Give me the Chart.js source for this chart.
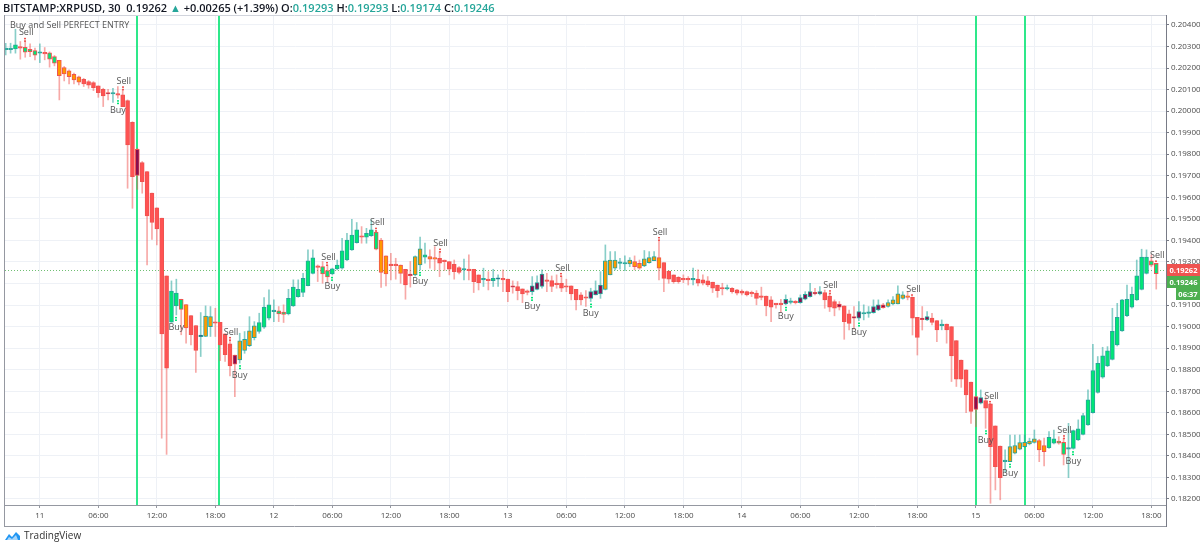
<!DOCTYPE html>
<html>
<head>
<meta charset="utf-8">
<script src="https://cdn.jsdelivr.net/npm/chart.js@4.4.1/dist/chart.umd.min.js"></script>
<style>
  body { margin: 0; background: #fff; font-family: "Open Sans", sans-serif; }
  #wrap { position: relative; width: 1200px; height: 547px; overflow: hidden; }
  #cabecera { position: absolute; left: 3px; top: 0; font-size: 11px; font-weight: 600; color: #131722; white-space: nowrap; line-height: 15px; }
  #cabecera .v { color: #26a69a; }
  #logo { position: absolute; left: 4px; top: 528px; font-size: 10px; color: #333; display: flex; align-items: center; gap: 3px; }
</style>
</head>
<body>
<div id="wrap">
  <canvas id="grafico" width="1200" height="547"></canvas>
  <div id="cabecera">BITSTAMP:XRPUSD, 30&nbsp; 0.19262 <span class="v">▲</span> +0.00265 (+1.39%) O:<span class="v">0.19293</span> H:<span class="v">0.19293</span> L:<span class="v">0.19174</span> C:<span class="v">0.19246</span></div>
  <div id="logo"><svg width="17" height="11" viewBox="0 0 17 11"><path d="M1 10 L5 4 L8 7 L12 2 L16 6 L16 10 Z" fill="#2196f3"/><path d="M3 10 L5 7 L8 9 L12 5 L14 10 Z" fill="#fff" opacity="0.6"/></svg>TradingView</div>
</div>
<script>
// Velas de 30 min, BITSTAMP:XRPUSD
const aperturas = [
  0.20289,0.20289,0.20289,0.20296,0.20296,0.20287,0.20281,0.20272,0.20269,0.20270,
  0.20253,0.20236,0.20202,0.20187,0.20171,0.20159,0.20148,0.20137,0.20132,0.20117,
  0.20101,0.20083,0.20083,0.20078,0.20075,0.20049,0.19948,0.19823,0.19761,0.19719,
  0.19619,0.19551,0.19503,0.19235,0.19020,0.19096,0.19127,0.19102,0.19051,0.19005,
  0.18957,0.18954,0.19000,0.19019,0.19020,0.18966,0.18920,0.18868,0.18845,0.18889,
  0.18912,0.18949,0.18977,0.18997,0.19039,0.19073,0.19073,0.19067,0.19059,0.19096,
  0.19139,0.19158,0.19190,0.19247,0.19278,0.19278,0.19260,0.19244,0.19268,0.19271,
  0.19309,0.19356,0.19390,0.19418,0.19415,0.19422,0.19438,0.19402,0.19328,0.19286,
  0.19286,0.19286,0.19266,0.19240,0.19240,0.19286,0.19322,0.19325,0.19320,0.19317,
  0.19305,0.19302,0.19289,0.19274,0.19266,0.19263,0.19266,0.19240,0.19220,0.19217,
  0.19213,0.19223,0.19220,0.19220,0.19186,0.19186,0.19175,0.19162,0.19162,0.19173,
  0.19186,0.19213,0.19213,0.19198,0.19201,0.19186,0.19189,0.19173,0.19147,0.19135,
  0.19131,0.19147,0.19152,0.19173,0.19240,0.19271,0.19297,0.19294,0.19291,0.19302,
  0.19294,0.19282,0.19297,0.19306,0.19320,0.19297,0.19258,0.19240,0.19229,0.19220,
  0.19220,0.19220,0.19221,0.19217,0.19212,0.19206,0.19193,0.19178,0.19178,0.19178,
  0.19170,0.19165,0.19162,0.19155,0.19155,0.19139,0.19142,0.19124,0.19105,0.19105,
  0.19105,0.19116,0.19114,0.19111,0.19127,0.19139,0.19155,0.19152,0.19158,0.19142,
  0.19116,0.19104,0.19096,0.19059,0.19043,0.19039,0.19062,0.19065,0.19065,0.19077,
  0.19101,0.19093,0.19105,0.19105,0.19131,0.19139,0.19136,0.19043,0.19036,0.19031,
  0.19039,0.19028,0.19008,0.19012,0.19000,0.18935,0.18845,0.18799,0.18742,0.18675,
  0.18644,0.18657,0.18641,0.18539,0.18446,0.18377,0.18373,0.18412,0.18431,0.18443,
  0.18455,0.18463,0.18471,0.18448,0.18438,0.18459,0.18469,0.18463,0.18435,0.18435,
  0.18474,0.18500,0.18544,0.18601,0.18694,0.18765,0.18818,0.18848,0.18915,0.18980,
  0.19051,0.19090,0.19124,0.19173,0.19247,0.19305,0.19293
];
const maximos = [
  0.20315,0.20315,0.20380,0.20323,0.20326,0.20312,0.20293,0.20312,0.20295,0.20275,
  0.20258,0.20236,0.20207,0.20191,0.20176,0.20163,0.20152,0.20142,0.20137,0.20117,
  0.20106,0.20101,0.20106,0.20114,0.20101,0.20052,0.19951,0.19828,0.19766,0.19719,
  0.19619,0.19551,0.19503,0.19235,0.19212,0.19220,0.19127,0.19102,0.19051,0.19005,
  0.19065,0.19096,0.19093,0.19085,0.19020,0.18966,0.18938,0.18868,0.18969,0.18977,
  0.19046,0.19023,0.19062,0.19135,0.19170,0.19124,0.19093,0.19101,0.19173,0.19217,
  0.19217,0.19247,0.19356,0.19356,0.19286,0.19302,0.19286,0.19271,0.19309,0.19410,
  0.19433,0.19498,0.19483,0.19464,0.19456,0.19495,0.19445,0.19410,0.19328,0.19340,
  0.19317,0.19286,0.19266,0.19302,0.19328,0.19415,0.19387,0.19356,0.19371,0.19348,
  0.19309,0.19302,0.19309,0.19278,0.19313,0.19333,0.19266,0.19240,0.19271,0.19255,
  0.19266,0.19240,0.19263,0.19220,0.19212,0.19209,0.19175,0.19170,0.19232,0.19235,
  0.19263,0.19247,0.19235,0.19240,0.19235,0.19220,0.19189,0.19173,0.19158,0.19167,
  0.19178,0.19212,0.19255,0.19379,0.19348,0.19348,0.19317,0.19328,0.19320,0.19328,
  0.19309,0.19353,0.19348,0.19348,0.19402,0.19297,0.19258,0.19240,0.19232,0.19240,
  0.19232,0.19271,0.19263,0.19240,0.19232,0.19206,0.19193,0.19201,0.19193,0.19181,
  0.19173,0.19170,0.19165,0.19165,0.19167,0.19183,0.19142,0.19139,0.19108,0.19127,
  0.19147,0.19132,0.19121,0.19147,0.19162,0.19201,0.19178,0.19186,0.19170,0.19155,
  0.19124,0.19116,0.19096,0.19077,0.19093,0.19116,0.19101,0.19093,0.19124,0.19124,
  0.19108,0.19124,0.19139,0.19189,0.19162,0.19162,0.19136,0.19043,0.19093,0.19070,
  0.19062,0.19028,0.19031,0.19012,0.19000,0.18935,0.18845,0.18799,0.18742,0.18675,
  0.18706,0.18675,0.18641,0.18539,0.18446,0.18428,0.18497,0.18497,0.18497,0.18497,
  0.18482,0.18520,0.18477,0.18482,0.18513,0.18520,0.18489,0.18482,0.18551,0.18520,
  0.18567,0.18598,0.18706,0.18918,0.18861,0.18904,0.18907,0.19085,0.19108,0.19127,
  0.19193,0.19183,0.19309,0.19359,0.19356,0.19333,0.19293
];
const minimos = [
  0.20261,0.20269,0.20269,0.20241,0.20250,0.20253,0.20238,0.20225,0.20238,0.20204,
  0.20210,0.20052,0.20140,0.20126,0.20126,0.20122,0.20114,0.20106,0.20095,0.20064,
  0.20021,0.20052,0.20040,0.20060,0.20021,0.19642,0.19549,0.19637,0.19619,0.19286,
  0.19405,0.19379,0.18482,0.18407,0.19020,0.19054,0.18962,0.18923,0.18915,0.18787,
  0.18861,0.18954,0.18954,0.18954,0.18842,0.18838,0.18771,0.18675,0.18830,0.18876,
  0.18907,0.18938,0.18969,0.18992,0.19031,0.19023,0.19023,0.19019,0.19054,0.19093,
  0.19136,0.19139,0.19189,0.19244,0.19209,0.19201,0.19204,0.19240,0.19263,0.19266,
  0.19306,0.19353,0.19387,0.19387,0.19387,0.19418,0.19356,0.19182,0.19189,0.19217,
  0.19220,0.19201,0.19127,0.19183,0.19235,0.19263,0.19294,0.19271,0.19263,0.19232,
  0.19260,0.19240,0.19220,0.19244,0.19217,0.19217,0.19158,0.19170,0.19186,0.19170,
  0.19186,0.19186,0.19162,0.19116,0.19155,0.19124,0.19111,0.19147,0.19147,0.19170,
  0.19178,0.19162,0.19162,0.19178,0.19162,0.19162,0.19124,0.19077,0.19100,0.19093,
  0.19116,0.19147,0.19131,0.19170,0.19240,0.19263,0.19266,0.19260,0.19278,0.19263,
  0.19266,0.19278,0.19294,0.19306,0.19217,0.19162,0.19201,0.19201,0.19201,0.19204,
  0.19193,0.19193,0.19189,0.19193,0.19186,0.19158,0.19136,0.19147,0.19170,0.19155,
  0.19147,0.19147,0.19142,0.19139,0.19101,0.19124,0.19050,0.19023,0.19085,0.19065,
  0.19101,0.19105,0.19105,0.19108,0.19124,0.19136,0.19147,0.19147,0.19085,0.19070,
  0.19050,0.19077,0.18941,0.18984,0.18988,0.19028,0.19031,0.19043,0.19062,0.19074,
  0.19085,0.19090,0.19101,0.19105,0.19127,0.19124,0.18961,0.18868,0.18984,0.19028,
  0.19008,0.18930,0.18985,0.18923,0.18745,0.18722,0.18718,0.18601,0.18551,0.18536,
  0.18641,0.18528,0.18180,0.18242,0.18196,0.18327,0.18373,0.18409,0.18428,0.18440,
  0.18451,0.18459,0.18373,0.18353,0.18435,0.18455,0.18454,0.18358,0.18299,0.18431,
  0.18471,0.18497,0.18541,0.18598,0.18691,0.18760,0.18814,0.18845,0.18910,0.18977,
  0.19046,0.19085,0.19121,0.19170,0.19244,0.19278,0.19174
];
const cierres = [
  0.20289,0.20289,0.20307,0.20296,0.20273,0.20276,0.20259,0.20272,0.20269,0.20241,
  0.20222,0.20165,0.20173,0.20160,0.20145,0.20134,0.20126,0.20120,0.20109,0.20086,
  0.20070,0.20083,0.20083,0.20078,0.20021,0.19843,0.19696,0.19701,0.19673,0.19514,
  0.19483,0.19453,0.18966,0.18807,0.19165,0.19155,0.19080,0.18994,0.18962,0.18889,
  0.18957,0.19049,0.19046,0.19019,0.18915,0.18870,0.18818,0.18826,0.18934,0.18941,
  0.18980,0.19003,0.19019,0.19090,0.19101,0.19073,0.19059,0.19056,0.19131,0.19183,
  0.19173,0.19224,0.19305,0.19319,0.19278,0.19244,0.19230,0.19268,0.19286,0.19351,
  0.19402,0.19425,0.19449,0.19418,0.19433,0.19449,0.19359,0.19251,0.19244,0.19286,
  0.19286,0.19247,0.19193,0.19240,0.19325,0.19361,0.19333,0.19313,0.19313,0.19294,
  0.19305,0.19266,0.19255,0.19251,0.19266,0.19263,0.19209,0.19204,0.19220,0.19217,
  0.19224,0.19223,0.19220,0.19162,0.19186,0.19167,0.19152,0.19162,0.19189,0.19204,
  0.19244,0.19213,0.19186,0.19198,0.19178,0.19186,0.19152,0.19124,0.19124,0.19135,
  0.19162,0.19167,0.19193,0.19305,0.19309,0.19309,0.19297,0.19294,0.19309,0.19278,
  0.19271,0.19314,0.19320,0.19325,0.19271,0.19224,0.19220,0.19209,0.19209,0.19220,
  0.19220,0.19220,0.19201,0.19201,0.19193,0.19178,0.19167,0.19178,0.19178,0.19162,
  0.19155,0.19155,0.19147,0.19155,0.19131,0.19139,0.19096,0.19090,0.19105,0.19105,
  0.19127,0.19116,0.19114,0.19135,0.19150,0.19162,0.19155,0.19162,0.19124,0.19090,
  0.19085,0.19090,0.19023,0.19015,0.19043,0.19070,0.19062,0.19065,0.19093,0.19101,
  0.19088,0.19111,0.19124,0.19152,0.19147,0.19139,0.19039,0.18950,0.19036,0.19046,
  0.19019,0.18985,0.19008,0.18985,0.18864,0.18756,0.18756,0.18683,0.18606,0.18616,
  0.18670,0.18621,0.18443,0.18350,0.18299,0.18377,0.18443,0.18448,0.18462,0.18463,
  0.18469,0.18479,0.18428,0.18420,0.18486,0.18479,0.18459,0.18407,0.18435,0.18517,
  0.18525,0.18587,0.18660,0.18796,0.18830,0.18864,0.18887,0.18978,0.19043,0.19124,
  0.19127,0.19150,0.19235,0.19322,0.19322,0.19285,0.19246
];
// Estado del indicador por vela: G verde, R rojo, O naranja, M granate, N azul, T neutro
const estados = (
  "TTGRGGGTRG" + "GOOOOORRRR" + "RMTRRRRMRR" + "RRRRGGGORR" + "NOORRRRMOO" +
  "OOGGGTGGGG" + "GGGGRGGGGG" + "GGGRGGGOOR" + "RORMOOGOOR" + "RRRRTRRRTR" +
  "GNRRMRRRMM" + "MRRRRRRRRR" + "MMMOOOTTOO" + "OOOOORRRRR" + "RTRRRRRRTR" +
  "RRRRRRRRRR" + "MTRMMMMMRR" + "RMRRMMTTMM" + "MOOOOORRMM" + "RRTRRRRRRM" +
  "MRRRRTOOOO" + "OOOOGGGGTG" + "GGGGGGGGGG" + "GGGGGGG"
).split("");

// Eje de tiempo (índice de vela de cada marca)
const ticksX = [7,19,31,43,55,67,79,91,103,115,127,139,151,163,175,187,199,211,223,235];
const etiquetasX = ["11","06:00","12:00","18:00","12","06:00","12:00","18:00","13","06:00","12:00","18:00","14","06:00","12:00","18:00","15","06:00","12:00","18:00"];

// Señales del indicador
const senalesVenta = [4,24,46,66,76,89,114,134,169,186,202,217,236];
const senalesCompra = [23,35,48,67,85,108,120,160,175,201,206,219];
const lineasVerdes = [27,43.8,199,209];

const precioUltimo = 0.19262;
const precioCierre = 0.19246;
const cuentaAtras = "06:37";

const colorCuerpo = { G: "#00e676", R: "#ff5252", O: "#ff9800", M: "#880e4f", N: "#1a237e", T: "#26a69a" };
const alcista = (i) => cierres[i] > aperturas[i] || (cierres[i] === aperturas[i] && "GTN".includes(estados[i]));

const indices = aperturas.map((_, i) => i);

const mechas = indices.map(i => ({ x: i, y: [minimos[i], maximos[i]] }));
const cuerpos = indices.map(i => {
  let a = aperturas[i], c = cierres[i];
  if (Math.abs(a - c) < 0.00003) {
    const m = (a + c) / 2;
    a = m - 0.000035; c = m + 0.000035;
  }
  return { x: i, y: [a, c] };
});

const adornos = {
  id: "adornos",
  beforeDatasetsDraw(chart) {
    const { ctx, chartArea: ca, scales: { x, y } } = chart;
    ctx.save();
    // línea de precio actual
    ctx.strokeStyle = "rgba(76,175,80,0.8)";
    ctx.setLineDash([1, 2]);
    ctx.lineWidth = 1;
    const yp = Math.round(y.getPixelForValue(precioUltimo)) + 0.5;
    ctx.beginPath(); ctx.moveTo(ca.left, yp); ctx.lineTo(ca.right, yp); ctx.stroke();
    ctx.setLineDash([]);
    // líneas verticales verdes
    ctx.strokeStyle = "#2ee88a";
    ctx.lineWidth = 2;
    lineasVerdes.forEach(i => {
      const xp = Math.round(x.getPixelForValue(i));
      ctx.beginPath(); ctx.moveTo(xp, ca.top); ctx.lineTo(xp, ca.bottom); ctx.stroke();
    });
    ctx.restore();
  },
  afterDatasetsDraw(chart) {
    const { ctx, scales: { x, y } } = chart;
    ctx.save();
    ctx.font = "9px 'Open Sans'";
    ctx.textAlign = "center";
    ctx.textBaseline = "middle";
    senalesVenta.forEach(i => {
      const xp = x.getPixelForValue(i), yh = y.getPixelForValue(maximos[i]);
      ctx.fillStyle = "#ef5350";
      ctx.fillRect(Math.round(xp) - 1, yh - 3, 2, 1.5);
      ctx.fillRect(Math.round(xp) - 1, yh - 0.5, 2, 1.5);
      ctx.fillStyle = "#555";
      ctx.fillText("Sell", xp + 1, yh - 8);
    });
    senalesCompra.forEach(i => {
      const xp = x.getPixelForValue(i), yl = y.getPixelForValue(minimos[i]);
      ctx.fillStyle = "#00e676";
      ctx.fillRect(Math.round(xp) - 1, yl + 2, 2, 1.5);
      ctx.fillRect(Math.round(xp) - 1, yl + 4.5, 2, 1.5);
      ctx.fillStyle = "#555";
      ctx.fillText("Buy", xp, yl + 12);
    });
    ctx.textAlign = "left";
    ctx.font = "9px 'Open Sans'";
    ctx.fillStyle = "#555";
    ctx.fillText("Buy and Sell PERFECT ENTRY", 10, 25);
    ctx.restore();
  },
  afterDraw(chart) {
    const { ctx, chartArea: ca, scales: { y } } = chart;
    ctx.save();
    // bordes del panel
    ctx.lineWidth = 1;
    ctx.strokeStyle = "#d1d4dc";
    ctx.beginPath(); ctx.moveTo(4, ca.top + 0.5); ctx.lineTo(ca.right, ca.top + 0.5); ctx.stroke();
    ctx.strokeStyle = "#9598a1";
    ctx.beginPath(); ctx.moveTo(4.5, ca.top); ctx.lineTo(4.5, 527); ctx.stroke();
    ctx.beginPath(); ctx.moveTo(4, ca.bottom + 0.5); ctx.lineTo(ca.right, ca.bottom + 0.5); ctx.stroke();
    ctx.beginPath(); ctx.moveTo(4, 526.5); ctx.lineTo(ca.right, 526.5); ctx.stroke();
    ctx.strokeStyle = "#787b86";
    ctx.beginPath(); ctx.moveTo(ca.right + 0.5, ca.top); ctx.lineTo(ca.right + 0.5, 527); ctx.stroke();
    // etiquetas de precio a la derecha
    const caja = (texto, yc, color, x0) => {
      ctx.fillStyle = color;
      ctx.fillRect(x0, Math.round(yc) - 6, 1200 - x0, 12);
      ctx.fillStyle = "#fff";
      ctx.font = "bold 7.5px 'Open Sans'";
      ctx.textAlign = "center";
      ctx.textBaseline = "middle";
      ctx.fillText(texto, (x0 + 1200) / 2, Math.round(yc) + 0.5);
    };
    const y1 = y.getPixelForValue(precioUltimo);
    caja(precioUltimo.toFixed(5), y1, "#ef5350", ca.right + 1);
    caja(precioCierre.toFixed(5), y1 + 12, "#4caf50", ca.right + 1);
    caja(cuentaAtras, y1 + 24, "#4caf50", ca.right + 10);
    ctx.restore();
  }
};

new Chart(document.getElementById("grafico"), {
  type: "bar",
  data: {
    datasets: [
      {
        label: "mechas",
        data: mechas,
        backgroundColor: indices.map(i => alcista(i) ? "rgba(38,166,154,0.55)" : "rgba(239,83,80,0.5)"),
        barThickness: 1,
        grouped: false,
        order: 2
      },
      {
        label: "velas",
        data: cuerpos,
        backgroundColor: indices.map(i => colorCuerpo[estados[i]]),
        borderColor: indices.map(i => alcista(i) ? "#26a69a" : "#ef5350"),
        borderWidth: 1,
        borderSkipped: false,
        barThickness: 4,
        grouped: false,
        order: 1
      }
    ]
  },
  options: {
    responsive: false,
    animation: false,
    layout: { padding: { left: 5, top: 15, right: 0, bottom: 21 } },
    plugins: { legend: { display: false }, tooltip: { enabled: false } },
    scales: {
      x: {
        type: "linear",
        min: -0.144,
        max: 238.0,
        offset: false,
        afterBuildTicks: (s) => { s.ticks = ticksX.map(v => ({ value: v })); },
        afterFit: (s) => { s.height = 21; },
        ticks: {
          autoSkip: false,
          maxRotation: 0,
          padding: 3,
          color: "#4a4a4a",
          font: { size: 8, family: "Open Sans" },
          callback: (v, idx) => etiquetasX[idx]
        },
        grid: { color: "#eef1f6", tickColor: "#9598a1", tickLength: 3, offset: false },
        border: { display: false }
      },
      y: {
        position: "right",
        min: 0.18172,
        max: 0.20446,
        afterFit: (s) => { s.width = 34; },
        ticks: {
          stepSize: 0.001,
          includeBounds: false,
          padding: 2,
          color: "#4a4a4a",
          font: { size: 8, family: "Open Sans" },
          callback: (v) => v.toFixed(5)
        },
        grid: { color: "#eef1f6", tickColor: "#787b86", tickLength: 3 },
        border: { display: false }
      }
    }
  },
  plugins: [adornos]
});
</script>
</body>
</html>
